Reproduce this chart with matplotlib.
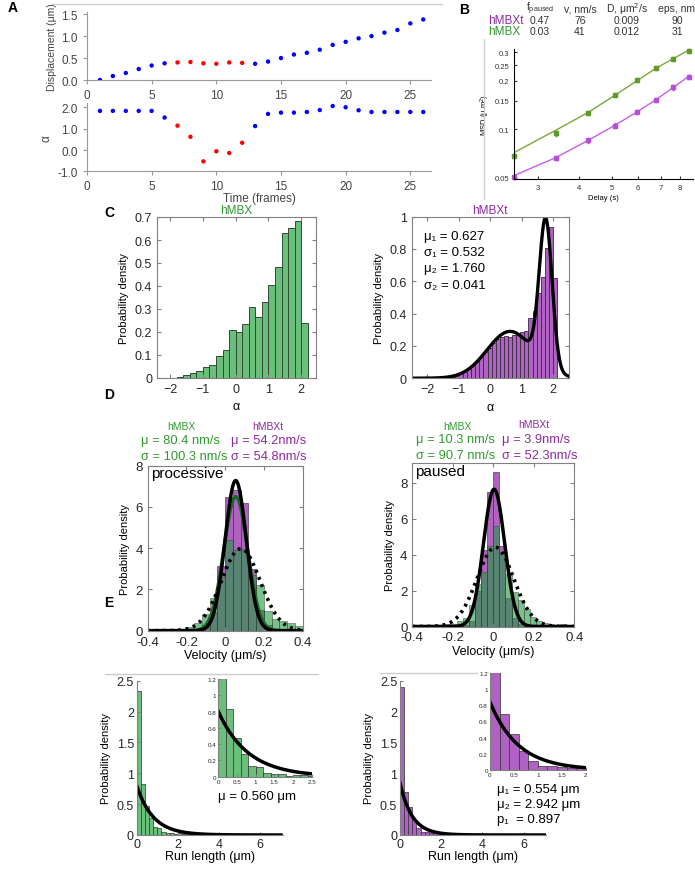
import numpy as np
import matplotlib as mpl
mpl.use('Agg')
import matplotlib.pyplot as plt
from matplotlib.lines import Line2D
from matplotlib.ticker import FormatStrFormatter, NullLocator

plt.rcParams['font.family'] = ['Liberation Sans', 'DejaVu Sans']
plt.rcParams['mathtext.fontset'] = 'custom'
plt.rcParams['mathtext.rm'] = 'Liberation Sans'
plt.rcParams['mathtext.it'] = 'Liberation Sans:italic'

# ---------------- data ----------------
# A: single trajectory
frames = list(range(1, 27))
displacement = [0.0, 0.09, 0.16, 0.25, 0.33, 0.38, 0.40, 0.41, 0.38, 0.37, 0.40, 0.39, 0.37,
                0.42, 0.50, 0.58, 0.62, 0.69, 0.80, 0.87, 0.95, 1.00, 1.08, 1.14, 1.29, 1.38]
alpha_local = [1.83, 1.83, 1.83, 1.83, 1.83, 1.52, 1.14, 0.62, -0.53, -0.06, -0.14, 0.34, 1.12,
               1.69, 1.75, 1.75, 1.78, 1.87, 2.06, 2.00, 1.86, 1.78, 1.78, 1.78, 1.78, 1.78]
paused_frames = [7, 8, 9, 10, 11, 12]

# B: MSD
delay = [2.55, 3.4, 4.25, 5.1, 5.95, 6.8, 7.65, 8.5]
msd_hmbx = [0.0685, 0.0941, 0.1265, 0.1634, 0.202, 0.241, 0.274, 0.308]
msd_hmbxt = [0.0507, 0.0665, 0.0851, 0.1053, 0.128, 0.1526, 0.1816, 0.212]
fit_hmbx = [0.0715, 0.0985, 0.127, 0.162, 0.200, 0.240, 0.275, 0.310]
fit_hmbxt = [0.0515, 0.0665, 0.0852, 0.1055, 0.128, 0.153, 0.182, 0.213]
table_cols = ['f$_{\\rm paused}$', 'v, nm/s', 'D, μm$^2$/s', 'eps, nm']
table_hmbxt = ['0.47', '76', '0.009', '90']
table_hmbx = ['0.03', '41', '0.012', '31']

# C: alpha distributions
alpha_hmbx = [0.002, 0.002, 0.004, 0.013, 0.023, 0.029, 0.05, 0.058, 0.096, 0.12, 0.207,
              0.20, 0.236, 0.307, 0.264, 0.33, 0.404, 0.481, 0.629, 0.652, 0.684, 0.238]
alpha_hmbxt = [0.005, 0.015, 0.03, 0.045, 0.055, 0.075, 0.1, 0.13, 0.16, 0.19, 0.22, 0.24, 0.255,
               0.26, 0.255, 0.27, 0.28, 0.285, 0.29, 0.37, 0.415, 0.53, 0.625, 0.805, 0.935, 0.62]
mix_mu = [0.627, 1.760]
mix_var = [0.532, 0.041]
mix_w = [0.53, 0.46]

# D: velocities
vel_proc_hmbx = [0.05, 0.05, 0.05, 0.1, 0.1, 0.2, 0.35, 0.8, 1.6, 2.6, 4.4, 3.9, 3.95, 2.7,
                 2.2, 0.96, 0.56, 0.48, 0.35, 0.24]
vel_proc_hmbxt = [0, 0, 0, 0, 0, 0, 0.05, 0.2, 0.9, 3.15, 6.5, 6.83, 6.18, 3.0, 1.0, 0.3, 0.05,
                  0, 0, 0]
vel_paus_hmbx = [0.05, 0.05, 0.05, 0.1, 0.1, 0.12, 0.15, 0.3, 0.5, 1.2, 2.35, 3.05, 4.45, 5.57,
                 4.1, 2.9, 1.9, 1.5, 1.0, 0.52, 0.3, 0.18, 0.15, 0.1, 0.15, 0.05]
vel_paus_hmbxt = [0, 0, 0, 0, 0, 0, 0, 0, 0.1, 0.3, 2.0, 4.27, 7.5, 8.6, 4.5, 1.6, 0.5, 0.15,
                  0.05, 0, 0, 0, 0, 0, 0, 0]
proc_mu = [80.4, 54.2]     # nm/s, hMBX / hMBXt
proc_sd = [100.3, 54.8]
paus_mu = [10.3, 3.9]
paus_sd = [90.7, 52.3]

# E: run lengths
run_hmbx = [2.33, 0.83, 0.47, 0.28, 0.135, 0.115, 0.05, 0.035, 0.03, 0.01, 0.025, 0.02, 0.01, 0.01]
run_hmbxt = [2.4, 0.69, 0.45, 0.24, 0.115, 0.055, 0.055, 0.035, 0.03, 0.02, 0.01, 0.01, 0.005]
exp_fit_hmbx = [0.80, 0.80]    # amplitude, decay length (um)
exp_fit_hmbxt = [0.84, 0.59]

GREEN_TXT = '#2e9a2e'
PURPLE_TXT = '#8f2aa0'
GREEN_BAR = '#6abf7b'
PURPLE_BAR = '#b062c4'

W, H = 695, 870
fig = plt.figure(figsize=(W / 100, H / 100), dpi=100)


def box(x0, y0, x1, y1):
    return fig.add_axes([x0 / W, 1 - y1 / H, (x1 - x0) / W, (y1 - y0) / H])


def ftext(x, y, s, **kw):
    kw.setdefault('va', 'center')
    fig.text(x / W, 1 - y / H, s, **kw)


def frame_line(xs, ys):
    fig.add_artist(Line2D([x / W for x in xs], [1 - y / H for y in ys], color='#cccccc', lw=1))


def boxed(ax, lsize=9):
    for s in ax.spines.values():
        s.set_color('#808080')
        s.set_linewidth(0.8)
    ax.tick_params(direction='in', top=True, right=True, length=3, labelsize=lsize,
                   colors='#808080', labelcolor='#262626')


def gauss(x, mu, sd):
    return np.exp(-0.5 * ((x - mu) / sd) ** 2) / (np.sqrt(2 * np.pi) * sd)


frame_line([52, 442], [5, 5])
frame_line([484, 484], [40, 200])
frame_line([105, 318], [675, 675])
frame_line([380, 477], [674, 674])

for lab, x, y in [('A', 8, 8), ('B', 459, 10), ('C', 104, 213), ('D', 104, 395), ('E', 104, 603)]:
    ftext(x, y, lab, fontsize=10, fontweight='bold')

# ---------------- A ----------------
colors = ['red' if f in paused_frames else 'blue' for f in frames]
axA1 = box(87, 13, 431, 81)
axA2 = box(87, 104, 431, 172.4)
axA1.scatter(frames, displacement, c=colors, s=10, zorder=3, linewidths=0)
axA2.scatter(frames, alpha_local, c=colors, s=10, zorder=3, linewidths=0)
axA1.set_ylim(0, 1.55)
axA1.set_yticks([0, 0.5, 1.0, 1.5])
axA2.set_ylim(-1, 2.2)
axA2.set_yticks([-1, 0, 1, 2])
for ax in (axA1, axA2):
    ax.set_xlim(0, 26.6)
    ax.set_xticks([0, 5, 10, 15, 20, 25])
    ax.yaxis.set_major_formatter(FormatStrFormatter('%.1f'))
    for s in ('top', 'right'):
        ax.spines[s].set_visible(False)
    for s in ('left', 'bottom'):
        ax.spines[s].set_color('#999999')
    ax.tick_params(direction='out', length=3, labelsize=8.5, colors='#999999', labelcolor='#444444')
axA1.set_ylabel('Displacement (μm)', fontsize=7.5, color='#444444', labelpad=3)
axA2.set_ylabel('α', fontsize=8.5, color='#444444')
axA2.set_xlabel('Time (frames)', fontsize=8.5, color='#444444', labelpad=0)

# ---------------- B ----------------
xcols = [540, 580, 627, 677]
for s, x in zip(table_cols, xcols):
    ftext(x, 9, s, fontsize=7.5, ha='center', color='#333333')
ftext(488, 21, 'hMBXt', fontsize=8.5, color=PURPLE_TXT)
ftext(488, 32, 'hMBX', fontsize=8.5, color=GREEN_TXT)
for a, b, x in zip(table_hmbxt, table_hmbx, xcols):
    ftext(x, 21, a, fontsize=7.5, ha='center', color='#333333')
    ftext(x, 32, b, fontsize=7.5, ha='center', color='#333333')

axB = box(514, 50, 693, 180)
axB.set_xscale('log')
axB.set_yscale('log')
axB.plot(delay, fit_hmbx, color='#78a83a', lw=1)
axB.plot(delay, fit_hmbxt, color='#c65ee8', lw=1)
axB.errorbar(delay, msd_hmbx, yerr=[m * 0.03 for m in msd_hmbx], fmt='s', ms=2.2,
             color='#5e9a2a', elinewidth=0.8, capsize=1, clip_on=False)
axB.errorbar(delay, msd_hmbxt, yerr=[m * 0.03 for m in msd_hmbxt], fmt='s', ms=2.2,
             color='#b84ed8', elinewidth=0.8, capsize=1, clip_on=False)
axB.set_xlim(2.55, 8.75)
axB.set_ylim(0.049, 0.315)
axB.set_xticks([3, 4, 5, 6, 7, 8])
axB.set_xticklabels(['3', '4', '5', '6', '7', '8'])
axB.set_yticks([0.05, 0.1, 0.15, 0.2, 0.25, 0.3])
axB.set_yticklabels(['0.05', '0.1', '0.15', '0.2', '0.25', '0.3'])
axB.xaxis.set_minor_locator(NullLocator())
axB.yaxis.set_minor_locator(NullLocator())
for s in ('top', 'right'):
    axB.spines[s].set_visible(False)
axB.tick_params(direction='in', length=2.5, labelsize=5.5, colors='#333333')
axB.set_xlabel('Delay (s)', fontsize=5.5, labelpad=2)
axB.set_ylabel('MSD (μ m$^2$)', fontsize=5.5, labelpad=2)

# ---------------- C ----------------
axC1 = box(157, 218, 316, 379)
edges = np.arange(-2.2, 2.2, 0.2)
axC1.bar(edges, alpha_hmbx, width=0.2, align='edge', color=GREEN_BAR, edgecolor='#2f4a35', lw=0.7)
axC1.set_xlim(-2.4, 2.45)
axC1.set_ylim(0, 0.7)
axC1.set_xticks([-2, -1, 0, 1, 2])
axC1.set_yticks([0, 0.1, 0.2, 0.3, 0.4, 0.5, 0.6, 0.7])
axC1.set_yticklabels(['0', '0.1', '0.2', '0.3', '0.4', '0.5', '0.6', '0.7'])
axC1.set_title('hMBX', color=GREEN_TXT, fontsize=8.5, pad=3)
axC1.set_ylabel('Probability density', fontsize=8)
axC1.set_xlabel('α', fontsize=9)
boxed(axC1)

axC2 = box(411.7, 217.7, 569, 379.2)
edges = np.arange(-1.26, 2.1, 0.13)[:len(alpha_hmbxt)]
axC2.bar(edges, alpha_hmbxt, width=0.13, align='edge', color=PURPLE_BAR, edgecolor='#3a2a40', lw=0.6)
xs = np.linspace(-2.5, 2.5, 400)
mix = sum(w * gauss(xs, m, np.sqrt(v)) for w, m, v in zip(mix_w, mix_mu, mix_var))
axC2.plot(xs, mix, color='black', lw=2.4)
axC2.set_xlim(-2.5, 2.5)
axC2.set_ylim(0, 1)
axC2.set_xticks([-2, -1, 0, 1, 2])
axC2.set_yticks([0, 0.2, 0.4, 0.6, 0.8, 1])
axC2.set_yticklabels(['0', '0.2', '0.4', '0.6', '0.8', '1'])
axC2.set_title('hMBXt', color=PURPLE_TXT, fontsize=8.5, pad=3)
axC2.set_ylabel('Probability density', fontsize=8)
axC2.set_xlabel('α', fontsize=9)
boxed(axC2)
for i, s in enumerate(['μ₁ = %.3f' % mix_mu[0], 'σ₁ = %.3f' % mix_var[0],
                       'μ₂ = %.3f' % mix_mu[1], 'σ₂ = %.3f' % mix_var[1]]):
    axC2.text(0.08, 0.88 - i * 0.1, s, transform=axC2.transAxes, fontsize=9.5, va='center')


# ---------------- D ----------------
def vel_panel(ax, w, e0, green, purple, mus, sds, label, green_curve):
    n = len(green)
    edges = e0 + w * np.arange(n)
    ax.bar(edges, purple, width=w, align='edge', color='#a347b5', alpha=0.85,
           edgecolor='#333333', lw=0.5)
    ax.bar(edges, green, width=w, align='edge', color='#1f9a3e', alpha=0.6,
           edgecolor='#333333', lw=0.5)
    v = np.linspace(-0.4, 0.4, 400)
    if green_curve:
        ax.plot(v, gauss(v, mus[1] / 1000, sds[1] / 1000 * 1.12), color='#1b6b2b', lw=2.5)
    ax.plot(v, gauss(v, mus[1] / 1000, sds[1] / 1000), color='black', lw=2.5)
    ax.plot(v, gauss(v, mus[0] / 1000, sds[0] / 1000), color='black', lw=2.6,
            linestyle=(0, (0.8, 1.3)))
    ax.set_xlim(-0.4, 0.4)
    ax.set_xticks([-0.4, -0.2, 0, 0.2, 0.4])
    ax.set_xticklabels(['-0.4', '-0.2', '0', '0.2', '0.4'])
    ax.set_yticks([0, 2, 4, 6, 8])
    ax.set_ylabel('Probability density', fontsize=8)
    ax.set_xlabel('Velocity (μm/s)', fontsize=9, labelpad=1)
    ax.text(0.02, 0.955, label, transform=ax.transAxes, fontsize=11, va='center')
    boxed(ax, 9.5)


axD1 = box(147.7, 466.7, 302.7, 631.7)
vel_panel(axD1, 0.04, -0.4, vel_proc_hmbx, vel_proc_hmbxt, proc_mu, proc_sd, 'processive', True)
axD1.set_ylim(0, 8)
axD2 = box(412.3, 464.3, 574.3, 627.5)
vel_panel(axD2, 0.03, -0.39, vel_paus_hmbx, vel_paus_hmbxt, paus_mu, paus_sd, 'paused', False)
axD2.set_ylim(0, 9.07)

ftext(181, 427, 'hMBX', fontsize=7.5, ha='center', color=GREEN_TXT)
ftext(268, 427, 'hMBXt', fontsize=7.5, ha='center', color=PURPLE_TXT)
ftext(141, 441, 'μ = %.1f nm/s' % proc_mu[0], fontsize=9.3, color=GREEN_TXT)
ftext(141, 457, 'σ = %.1f nm/s' % proc_sd[0], fontsize=9.3, color=GREEN_TXT)
ftext(231, 441, 'μ = %.1fnm/s' % proc_mu[1], fontsize=9.3, color=PURPLE_TXT)
ftext(231, 457, 'σ = %.1fnm/s' % proc_sd[1], fontsize=9.3, color=PURPLE_TXT)
ftext(457, 427, 'hMBX', fontsize=7.5, ha='center', color=GREEN_TXT)
ftext(534, 425, 'hMBXt', fontsize=7.5, ha='center', color=PURPLE_TXT)
ftext(416, 440, 'μ = %.1f nm/s' % paus_mu[0], fontsize=9.3, color=GREEN_TXT)
ftext(416, 456, 'σ = %.1f nm/s' % paus_sd[0], fontsize=9.3, color=GREEN_TXT)
ftext(502, 440, 'μ = %.1fnm/s' % paus_mu[1], fontsize=9.3, color=PURPLE_TXT)
ftext(502, 456, 'σ = %.1fnm/s' % paus_sd[1], fontsize=9.3, color=PURPLE_TXT)


# ---------------- E ----------------
def run_main(ax, data, color, fit, yt):
    edges = 0.2 * np.arange(len(data))
    ax.bar(edges, data, width=0.2, align='edge', color=color, edgecolor='#333333', lw=0.5)
    r = np.linspace(0, 7, 300)
    ax.plot(r, fit[0] * np.exp(-r / fit[1]), color='black', lw=2.5)
    ax.set_xlim(0, 7.1)
    ax.set_ylim(0, 2.5)
    ax.set_xticks([0, 2, 4, 6])
    ax.set_yticks(yt)
    ax.set_yticklabels(['%g' % t for t in yt])
    for s in ('top', 'right'):
        ax.spines[s].set_visible(False)
    for s in ('left', 'bottom'):
        ax.spines[s].set_color('#808080')
    ax.tick_params(direction='in', length=2.5, labelsize=9, colors='#808080', labelcolor='#262626',
                   pad=2)
    ax.set_ylabel('Probability density', fontsize=8)
    ax.set_xlabel('Run length (μm)', fontsize=9, labelpad=0)


def run_inset(ax, data, color, fit, xmax, xt):
    edges = 0.2 * np.arange(len(data))
    ax.bar(edges, data, width=0.2, align='edge', color=color, edgecolor='#333333', lw=0.5)
    r = np.linspace(0, xmax, 200)
    ax.plot(r, fit[0] * np.exp(-r / fit[1]), color='black', lw=2.5)
    ax.set_xlim(0, xmax)
    ax.set_ylim(0, 1.2)
    ax.set_xticks(xt)
    ax.set_xticklabels(['%g' % t for t in xt])
    ax.set_yticks([0, 0.2, 0.4, 0.6, 0.8, 1, 1.2])
    ax.set_yticklabels(['0', '0.2', '0.4', '0.6', '0.8', '1', '1.2'])
    for s in ('top', 'right'):
        ax.spines[s].set_visible(False)
    for s in ('left', 'bottom'):
        ax.spines[s].set_color('#808080')
    ax.tick_params(direction='in', length=2, labelsize=4.5, colors='#808080', labelcolor='#262626',
                   pad=1.5)


main_yticks = [0, 0.5, 1, 1.5, 2, 2.5]
axE1 = box(136.7, 681.7, 283, 836)
run_main(axE1, run_hmbx, GREEN_BAR, exp_fit_hmbx, main_yticks)
axE1i = box(218.3, 680, 311.7, 777.7)
run_inset(axE1i, run_hmbx, GREEN_BAR, exp_fit_hmbx, 2.5, [0, 0.5, 1, 1.5, 2, 2.5])
ftext(218, 797, 'μ = 0.560 μm', fontsize=9.5)

axE2 = box(400, 681.7, 546.3, 836)
run_main(axE2, run_hmbxt, PURPLE_BAR, exp_fit_hmbxt, main_yticks)
axE2i = box(490, 674, 585.7, 771)
run_inset(axE2i, run_hmbxt, PURPLE_BAR, exp_fit_hmbxt, 2, [0, 0.5, 1, 1.5, 2])
ftext(497, 790, 'μ₁ = 0.554 μm', fontsize=9.5)
ftext(497, 805, 'μ₂ = 2.942 μm', fontsize=9.5)
ftext(497, 820, 'p₁  = 0.897', fontsize=9.5)

fig.savefig('out.png', dpi=100)
